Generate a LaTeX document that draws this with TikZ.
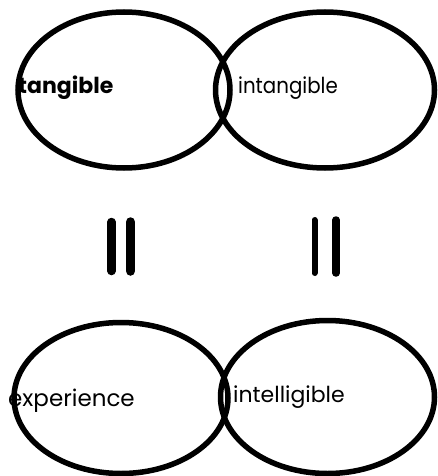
\documentclass[tikz,border=0pt]{standalone}
\usepackage{fontspec}
\setmainfont{Poppins}
\newfontfamily\narrowfont[FakeStretch=0.9]{Poppins}
\usetikzlibrary{shapes.geometric}
\begin{document}
\begin{tikzpicture}[x=1pt,y=-1pt,
  oval/.style={draw=black,line width=5.5pt,ellipse,inner sep=0pt},
  lbl/.style={inner sep=0pt,anchor=base west},
  bar/.style={line width=#1,line cap=round}]
\useasboundingbox (0,0) rectangle (437,476);
\node[oval,minimum width=212pt,minimum height=156pt] (tl) at (124,90) {};
\node[oval,minimum width=219pt,minimum height=156pt] (tr) at (325,90) {};
\node[oval,minimum width=214pt,minimum height=151pt] (bl) at (121,398) {};
\node[oval,minimum width=214pt,minimum height=153pt] (br) at (327.5,397) {};
\node[lbl,font=\fontsize{22}{22}\selectfont\bfseries] (t1) at (18,94) {tangible};
\node[lbl,font=\fontsize{22}{22}\selectfont\narrowfont] (t2) at (238,94) {intangible};
\node[lbl,font=\fontsize{23}{23}\selectfont] (t3) at (8,406) {experience};
\node[lbl,font=\fontsize{22}{22}\selectfont] (t4) at (233,402) {intelligible};
\coordinate (a1) at (111.5,222); \coordinate (a2) at (111.5,271);
\coordinate (b1) at (130.5,222); \coordinate (b2) at (130.5,271);
\coordinate (c1) at (314.5,220); \coordinate (c2) at (314.5,273);
\coordinate (d1) at (336,220); \coordinate (d2) at (336,273);
\draw[bar=8.5pt] (a1) -- (a2);
\draw[bar=9.5pt] (b1) -- (b2);
\draw[bar=6pt] (c1) -- (c2);
\draw[bar=7.5pt] (d1) -- (d2);
\end{tikzpicture}
\end{document}
